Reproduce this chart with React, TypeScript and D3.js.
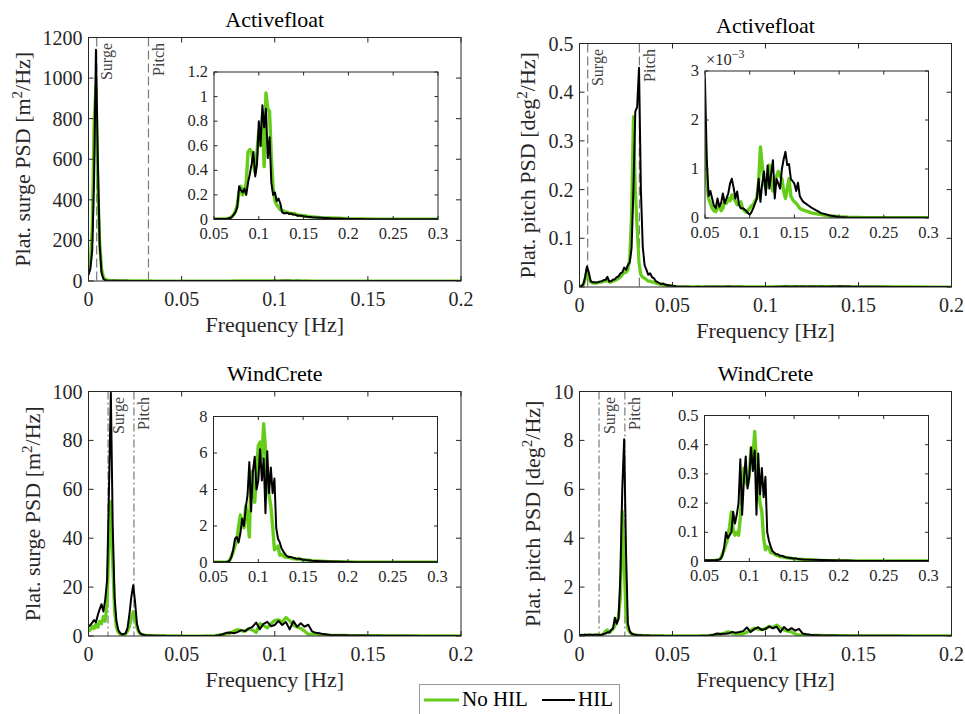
import React from "react";
import * as d3 from "d3";

// ---------- DATA ----------
const FREQ = [
  0, 0.001, 0.002, 0.003, 0.004, 0.005, 0.006, 0.007, 0.008, 0.009,
  0.01, 0.011, 0.012, 0.013, 0.014, 0.015, 0.016, 0.017, 0.018, 0.019,
  0.02, 0.021, 0.022, 0.023, 0.024, 0.025, 0.026, 0.027, 0.028, 0.029,
  0.03, 0.031, 0.032, 0.033, 0.034, 0.035, 0.036, 0.037, 0.038, 0.039,
  0.04, 0.041, 0.042, 0.043, 0.044, 0.045, 0.046, 0.047, 0.048, 0.049,
  0.05,
  0.052, 0.054, 0.056, 0.058, 0.06, 0.062, 0.064, 0.066, 0.068, 0.07,
  0.072, 0.074, 0.076, 0.078, 0.08, 0.082, 0.084, 0.086, 0.088, 0.09,
  0.092, 0.094, 0.096, 0.098, 0.1, 0.102, 0.104, 0.106, 0.108, 0.11,
  0.112, 0.114, 0.116, 0.118, 0.12, 0.122, 0.124, 0.126, 0.128, 0.13,
  0.132, 0.134, 0.136, 0.138, 0.14, 0.142, 0.144, 0.146, 0.148, 0.15,
  0.152, 0.154, 0.156, 0.158, 0.16,
  0.17, 0.18, 0.19, 0.2, 0.21, 0.22, 0.23, 0.24, 0.25, 0.26, 0.27, 0.28, 0.29, 0.3,
];

// Activefloat surge PSD [m^2/Hz]
const AF_SURGE_NOHIL = [
  45, 90, 260, 780, 960, 480, 190, 60, 20, 8,
  4, 3, 2.5, 2, 1.6, 1.4, 1.2, 1.1, 1, 0.9,
  0.8, 0.7, 0.6, 0.55, 0.5, 0.45, 0.4, 0.35, 0.3, 0.3,
  0.25, 0.2, 0.2, 0.15, 0.15, 0.12, 0.1, 0.08, 0.07, 0.06,
  0.05, 0.04, 0.03, 0.025, 0.02, 0.015, 0.012, 0.01, 0.008, 0.006,
  0.005,
  0.004, 0.004, 0.004, 0.004, 0.004, 0.005, 0.006, 0.008, 0.015, 0.025,
  0.04, 0.07, 0.12, 0.22, 0.27, 0.2, 0.24, 0.3, 0.55, 0.57,
  0.55, 0.45, 0.38, 0.55, 0.72, 0.6, 0.85, 0.43, 1.03, 0.9,
  0.88, 0.5, 0.25, 0.15, 0.12, 0.1, 0.08, 0.07, 0.07, 0.06,
  0.06, 0.05, 0.05, 0.045, 0.05, 0.04, 0.035, 0.035, 0.03, 0.03,
  0.03, 0.025, 0.025, 0.02, 0.02,
  0.015, 0.012, 0.01, 0.006, 0.005, 0.004, 0.003, 0.003, 0.003, 0.002, 0.002, 0.002, 0.002, 0.002,
];
const AF_SURGE_HIL = [
  30, 60, 150, 500, 1140, 600, 180, 40, 10, 4,
  2, 1.8, 1.6, 1.5, 1.3, 1.2, 1.1, 1, 0.9, 0.8,
  0.7, 0.65, 0.6, 0.5, 0.45, 0.4, 0.35, 0.3, 0.3, 0.25,
  0.2, 0.2, 0.15, 0.15, 0.12, 0.1, 0.08, 0.07, 0.06, 0.05,
  0.04, 0.035, 0.03, 0.025, 0.02, 0.015, 0.012, 0.01, 0.008, 0.006,
  0.005,
  0.004, 0.004, 0.004, 0.004, 0.004, 0.005, 0.006, 0.008, 0.012, 0.02,
  0.04, 0.06, 0.1, 0.27, 0.24, 0.22, 0.25, 0.2, 0.3, 0.37,
  0.45, 0.55, 0.35, 0.45, 0.8, 0.6, 0.93, 0.75, 0.9, 0.5,
  0.67, 0.3, 0.2, 0.22, 0.15, 0.17, 0.13, 0.06, 0.05, 0.05,
  0.055, 0.045, 0.05, 0.04, 0.04, 0.035, 0.03, 0.03, 0.03, 0.025,
  0.025, 0.022, 0.02, 0.02, 0.018,
  0.015, 0.01, 0.008, 0.005, 0.004, 0.003, 0.003, 0.002, 0.002, 0.002, 0.002, 0.002, 0.002, 0.002,
];

// Activefloat pitch PSD [deg^2/Hz]
const AF_PITCH_NOHIL = [
  0.001, 0.002, 0.004, 0.015, 0.035, 0.02, 0.01, 0.008, 0.008, 0.008,
  0.009, 0.01, 0.01, 0.012, 0.012, 0.015, 0.01, 0.01, 0.012, 0.014,
  0.015, 0.018, 0.02, 0.025, 0.03, 0.03, 0.035, 0.06, 0.15, 0.35,
  0.2, 0.12, 0.05, 0.025, 0.02, 0.018, 0.015, 0.012, 0.012, 0.01,
  0.01, 0.008, 0.007, 0.006, 0.005, 0.004, 0.004, 0.003, 0.003, 0.002,
  1.6e-3,
  0.74e-3, 0.4e-3, 0.3e-3, 0.2e-3, 0.15e-3, 0.13e-3, 0.2e-3, 0.27e-3, 0.15e-3, 0.2e-3,
  0.33e-3, 0.3e-3, 0.4e-3, 0.35e-3, 0.47e-3, 0.4e-3, 0.35e-3, 0.27e-3, 0.3e-3, 0.33e-3,
  0.2e-3, 0.15e-3, 0.12e-3, 0.15e-3, 0.2e-3, 0.25e-3, 0.27e-3, 0.35e-3, 0.4e-3, 0.74e-3,
  1.45e-3, 1.08e-3, 0.75e-3, 0.6e-3, 0.8e-3, 1.08e-3, 0.7e-3, 0.55e-3, 0.8e-3, 0.85e-3,
  0.95e-3, 0.85e-3, 0.8e-3, 0.55e-3, 0.4e-3, 0.6e-3, 0.8e-3, 0.45e-3, 0.38e-3, 0.33e-3,
  0.3e-3, 0.25e-3, 0.2e-3, 0.18e-3, 0.16e-3,
  0.1e-3, 0.07e-3, 0.04e-3, 0.025e-3, 0.015e-3, 0.01e-3, 0.008e-3, 0.006e-3, 0.005e-3, 0.005e-3, 0.004e-3, 0.004e-3, 0.004e-3, 0.004e-3,
];
const AF_PITCH_HIL = [
  0.001, 0.002, 0.005, 0.02, 0.042, 0.03, 0.012, 0.01, 0.01, 0.009,
  0.01, 0.011, 0.012, 0.014, 0.015, 0.021, 0.011, 0.012, 0.015, 0.016,
  0.02, 0.022, 0.028, 0.03, 0.04, 0.035, 0.045, 0.05, 0.08, 0.2,
  0.36, 0.37, 0.45, 0.2, 0.083, 0.045, 0.035, 0.025, 0.028, 0.02,
  0.018, 0.012, 0.01, 0.008, 0.006, 0.007, 0.005, 0.004, 0.003, 0.003,
  2.8e-3,
  1.2e-3, 0.45e-3, 0.55e-3, 0.4e-3, 0.25e-3, 0.2e-3, 0.4e-3, 0.23e-3, 0.3e-3, 0.5e-3,
  0.3e-3, 0.4e-3, 0.5e-3, 0.7e-3, 0.8e-3, 0.62e-3, 0.4e-3, 0.54e-3, 0.27e-3, 0.2e-3,
  0.2e-3, 0.18e-3, 0.15e-3, 0.1e-3, 0.07e-3, 0.12e-3, 0.2e-3, 0.3e-3, 0.4e-3, 0.8e-3,
  0.33e-3, 0.7e-3, 0.95e-3, 0.47e-3, 1.07e-3, 0.6e-3, 0.9e-3, 1.18e-3, 0.4e-3, 0.8e-3,
  0.7e-3, 0.6e-3, 1.0e-3, 1.2e-3, 1.35e-3, 1.08e-3, 1.1e-3, 0.8e-3, 0.75e-3, 0.7e-3,
  0.55e-3, 0.72e-3, 0.45e-3, 0.38e-3, 0.33e-3,
  0.2e-3, 0.1e-3, 0.05e-3, 0.02e-3, 0.01e-3, 0.006e-3, 0.005e-3, 0.004e-3, 0.004e-3, 0.004e-3, 0.004e-3, 0.004e-3, 0.004e-3, 0.004e-3,
];

// WindCrete surge PSD [m^2/Hz]
const WC_SURGE_NOHIL = [
  2, 2.5, 4, 3, 5, 3.5, 6, 5, 8, 6,
  14, 38, 55, 30, 10, 3.5, 1.5, 0.8, 0.5, 0.6,
  0.9, 2, 4, 7, 10, 7.5, 3.5, 1.5, 0.8, 0.5,
  0.35, 0.3, 0.25, 0.2, 0.18, 0.15, 0.12, 0.1, 0.09, 0.08,
  0.07, 0.06, 0.05, 0.045, 0.04, 0.035, 0.03, 0.025, 0.02, 0.015,
  0.01,
  0.01, 0.01, 0.01, 0.01, 0.01, 0.015, 0.02, 0.04, 0.12, 0.35,
  0.6, 0.9, 1.2, 2.0, 2.6, 2.2, 1.9, 3.1, 2.5, 1.4,
  5.0, 4.2, 3.3, 5.0, 6.4, 6.6, 5.7, 7.6, 6.2, 4.4,
  3.7, 3.1, 2.0, 0.7, 0.8, 0.9, 0.4, 0.45, 0.35, 0.3,
  0.28, 0.3, 0.25, 0.22, 0.2, 0.2, 0.18, 0.2, 0.16, 0.15,
  0.14, 0.13, 0.12, 0.11, 0.1,
  0.07, 0.05, 0.04, 0.03, 0.02, 0.02, 0.015, 0.01, 0.01, 0.01, 0.01, 0.01, 0.01, 0.01,
];
const WC_SURGE_HIL = [
  3.8, 4.5, 5.5, 6.5, 5.6, 8.6, 11, 13, 10, 15,
  23, 60, 99.5, 45, 16, 6, 2.5, 1.2, 0.7, 0.8,
  1.2, 3.5, 9, 16, 20.8, 14, 5, 2, 1, 0.6,
  0.4, 0.3, 0.25, 0.2, 0.18, 0.15, 0.12, 0.1, 0.09, 0.08,
  0.07, 0.06, 0.05, 0.045, 0.04, 0.035, 0.03, 0.025, 0.02, 0.015,
  0.01,
  0.01, 0.01, 0.01, 0.01, 0.01, 0.015, 0.02, 0.04, 0.1, 0.3,
  0.7, 1.3, 1.4, 1.1, 1.6, 2.4, 2.0, 3.0, 3.7, 5.5,
  2.8, 5.0, 5.8, 4.0, 4.5, 6.2, 4.5, 5.7, 2.7, 6.1,
  3.8, 5.2, 3.8, 4.6, 1.9, 1.3, 1.1, 0.77, 0.6, 0.45,
  0.35, 0.3, 0.3, 0.28, 0.25, 0.22, 0.2, 0.2, 0.18, 0.15,
  0.15, 0.13, 0.12, 0.11, 0.1,
  0.07, 0.05, 0.04, 0.03, 0.02, 0.02, 0.015, 0.01, 0.01, 0.01, 0.01, 0.01, 0.01, 0.01,
];

// WindCrete pitch PSD [deg^2/Hz]
const WC_PITCH_NOHIL = [
  0.02, 0.03, 0.03, 0.04, 0.03, 0.04, 0.04, 0.03, 0.04, 0.04,
  0.04, 0.04, 0.05, 0.1, 0.2, 0.25, 0.15, 0.2, 0.3, 0.4,
  0.6, 0.8, 1.6, 5.1, 3.0, 0.8, 0.3, 0.15, 0.08, 0.05,
  0.04, 0.035, 0.03, 0.025, 0.02, 0.018, 0.015, 0.013, 0.012, 0.01,
  0.009, 0.008, 0.007, 0.006, 0.005, 0.005, 0.004, 0.004, 0.004, 0.003,
  0.003,
  0.003, 0.003, 0.003, 0.003, 0.003, 0.004, 0.005, 0.006, 0.01, 0.025,
  0.04, 0.06, 0.08, 0.12, 0.17, 0.11, 0.09, 0.1, 0.09, 0.15,
  0.24, 0.32, 0.28, 0.26, 0.3, 0.39, 0.35, 0.445, 0.33, 0.25,
  0.2, 0.17, 0.08, 0.04, 0.05, 0.045, 0.03, 0.03, 0.025, 0.022,
  0.02, 0.017, 0.016, 0.015, 0.014, 0.013, 0.012, 0.011, 0.01, 0.01,
  0.009, 0.008, 0.008, 0.007, 0.007,
  0.005, 0.004, 0.003, 0.003, 0.002, 0.002, 0.002, 0.002, 0.002, 0.002, 0.002, 0.002, 0.002, 0.002,
];
const WC_PITCH_HIL = [
  0.03, 0.04, 0.04, 0.05, 0.04, 0.05, 0.05, 0.04, 0.05, 0.05,
  0.05, 0.04, 0.05, 0.08, 0.1, 0.15, 0.14, 0.25, 0.3, 0.75,
  0.5, 0.7, 2.5, 6.0, 8.05, 3.5, 0.5, 0.2, 0.1, 0.07,
  0.05, 0.04, 0.035, 0.03, 0.025, 0.02, 0.02, 0.018, 0.015, 0.013,
  0.012, 0.01, 0.01, 0.008, 0.007, 0.006, 0.005, 0.005, 0.004, 0.004,
  0.004,
  0.004, 0.004, 0.004, 0.004, 0.004, 0.004, 0.005, 0.006, 0.01, 0.02,
  0.05, 0.1, 0.08, 0.09, 0.1, 0.17, 0.13, 0.16, 0.2, 0.35,
  0.16, 0.28, 0.36, 0.25, 0.29, 0.39, 0.31, 0.38, 0.16, 0.37,
  0.23, 0.32, 0.22, 0.29, 0.1, 0.07, 0.05, 0.035, 0.03, 0.025,
  0.025, 0.02, 0.02, 0.018, 0.015, 0.014, 0.013, 0.012, 0.011, 0.01,
  0.01, 0.009, 0.008, 0.008, 0.007,
  0.006, 0.005, 0.004, 0.003, 0.003, 0.002, 0.002, 0.002, 0.002, 0.002, 0.002, 0.002, 0.002, 0.002,
];

const MAIN_X_TICKS = [0, 0.05, 0.1, 0.15, 0.2];
const INSET_X_TICKS = [0.05, 0.1, 0.15, 0.2, 0.25, 0.3];
const SERIES_NAMES = ["No HIL", "HIL"];
const TITLES = ["Activefloat", "Activefloat", "WindCrete", "WindCrete"];
const Y_LABEL_PREFIX = ["Plat. surge PSD [m", "Plat. pitch PSD [deg", "Plat. surge PSD [m", "Plat. pitch PSD [deg"];
const MAIN_Y_TICKS = [
  [0, 200, 400, 600, 800, 1000, 1200],
  [0, 0.1, 0.2, 0.3, 0.4, 0.5],
  [0, 20, 40, 60, 80, 100],
  [0, 2, 4, 6, 8, 10],
];
const INSET_Y_TICKS = [
  [0, 0.2, 0.4, 0.6, 0.8, 1, 1.2],
  [0, 0.001, 0.002, 0.003],
  [0, 2, 4, 6, 8],
  [0, 0.1, 0.2, 0.3, 0.4, 0.5],
];
const INSET_Y_FACTOR = [1, 1e-3, 1, 1];
const NATURAL_FREQ = [
  [0.0044, 0.0322],
  [0.0044, 0.0322],
  [0.0105, 0.0244],
  [0.0105, 0.0244],
];
const NATURAL_LABELS = ["Surge", "Pitch"];

// ---------- LAYOUT ----------
const FONT = '"Liberation Serif", "DejaVu Serif", serif';
const GREEN = "#66cc1a";
const INK = "#262626";
const GRAY = "#7a7a7a";

const LAYOUT = [
  { main: { x0: 88.5, x1: 461, y0: 37.5, y1: 281 }, inset: { x0: 214, x1: 438, y0: 72, y1: 219.5 }, ylabX: 29.5, dash: "9,4" },
  { main: { x0: 579.5, x1: 951.5, y0: 43.5, y1: 287 }, inset: { x0: 705, x1: 928.5, y0: 71, y1: 218 }, ylabX: 535, dash: "9,4" },
  { main: { x0: 88.5, x1: 461, y0: 391.5, y1: 636 }, inset: { x0: 213.5, x1: 437.5, y0: 416.5, y1: 562.5 }, ylabX: 40, dash: "8,3,2,3" },
  { main: { x0: 579.5, x1: 951.5, y0: 391.5, y1: 636 }, inset: { x0: 704.5, x1: 928.5, y0: 415.5, y1: 561.5 }, ylabX: 540, dash: "8,3,2,3" },
];

const SERIES = [
  [AF_SURGE_NOHIL, AF_SURGE_HIL],
  [AF_PITCH_NOHIL, AF_PITCH_HIL],
  [WC_SURGE_NOHIL, WC_SURGE_HIL],
  [WC_PITCH_NOHIL, WC_PITCH_HIL],
];

const fmt = (v: number) => String(+v.toFixed(6));

function toPoints(vals: number[]): [number, number][] {
  const n = Math.min(FREQ.length, vals.length);
  const out: [number, number][] = [];
  for (let i = 0; i < n; i++) out.push([FREQ[i], vals[i]]);
  return out;
}

const T = (size: number, extra: React.CSSProperties = {}): React.CSSProperties => ({
  fontFamily: FONT,
  fontSize: size,
  ...extra,
});

function Panel({ idx }: { idx: number }) {
  const L = LAYOUT[idx];
  const m = L.main;
  const ins = L.inset;
  const yTicks = MAIN_Y_TICKS[idx];
  const iyTicks = INSET_Y_TICKS[idx];
  const x = d3.scaleLinear().domain([MAIN_X_TICKS[0], MAIN_X_TICKS[MAIN_X_TICKS.length - 1]]).range([m.x0, m.x1]);
  const y = d3.scaleLinear().domain([yTicks[0], yTicks[yTicks.length - 1]]).range([m.y1, m.y0]);
  const xi = d3.scaleLinear().domain([INSET_X_TICKS[0], INSET_X_TICKS[INSET_X_TICKS.length - 1]]).range([ins.x0, ins.x1]);
  const yi = d3.scaleLinear().domain([iyTicks[0], iyTicks[iyTicks.length - 1]]).range([ins.y1, ins.y0]);
  const lineMain = d3.line<[number, number]>().x((d) => x(d[0])).y((d) => y(d[1]));
  const lineInset = d3.line<[number, number]>().x((d) => xi(d[0])).y((d) => yi(d[1]));
  const [noHil, hil] = SERIES[idx];
  const pNo = toPoints(noHil);
  const pHil = toPoints(hil);
  const clipM = `clipM${idx}`;
  const clipI = `clipI${idx}`;
  const tk = 5;
  const tki = 3.5;
  const midX = (m.x0 + m.x1) / 2;
  const midY = (m.y0 + m.y1) / 2;
  const factor = INSET_Y_FACTOR[idx];

  return (
    <g>
      <defs>
        <clipPath id={clipM}>
          <rect x={m.x0} y={m.y0} width={m.x1 - m.x0} height={m.y1 - m.y0} />
        </clipPath>
        <clipPath id={clipI}>
          <rect x={ins.x0} y={ins.y0} width={ins.x1 - ins.x0} height={ins.y1 - ins.y0} />
        </clipPath>
      </defs>
      <rect x={m.x0} y={m.y0} width={m.x1 - m.x0} height={m.y1 - m.y0} fill="#fff" />
      {NATURAL_FREQ[idx].map((f, k) => (
        <g key={k}>
          <line x1={x(f)} x2={x(f)} y1={m.y0} y2={m.y1} stroke={GRAY} strokeWidth={1.2} strokeDasharray={L.dash} />
          <text
            transform={`translate(${x(f) + 15.5},${m.y0 + 5.5}) rotate(-90)`}
            textAnchor="end"
            style={T(16)}
            fill="#444"
          >
            {NATURAL_LABELS[k]}
          </text>
        </g>
      ))}
      <g clipPath={`url(#${clipM})`}>
        <path d={lineMain(pNo) || ""} fill="none" stroke={GREEN} strokeWidth={3.2} strokeLinejoin="round" />
        <path d={lineMain(pHil) || ""} fill="none" stroke="#000" strokeWidth={2} strokeLinejoin="round" />
      </g>
      <rect x={m.x0} y={m.y0} width={m.x1 - m.x0} height={m.y1 - m.y0} fill="none" stroke={INK} strokeWidth={1} />
      {MAIN_X_TICKS.map((t) => (
        <g key={"mx" + t}>
          <line x1={x(t)} x2={x(t)} y1={m.y1} y2={m.y1 - tk} stroke={INK} />
          <line x1={x(t)} x2={x(t)} y1={m.y0} y2={m.y0 + tk} stroke={INK} />
          <text x={x(t)} y={m.y1 + 25} textAnchor="middle" style={T(20)} fill={INK}>
            {fmt(t)}
          </text>
        </g>
      ))}
      {yTicks.map((t) => (
        <g key={"my" + t}>
          <line x1={m.x0} x2={m.x0 + tk} y1={y(t)} y2={y(t)} stroke={INK} />
          <line x1={m.x1} x2={m.x1 - tk} y1={y(t)} y2={y(t)} stroke={INK} />
          <text x={m.x0 - 6} y={y(t) + 7} textAnchor="end" style={T(20)} fill={INK}>
            {fmt(t)}
          </text>
        </g>
      ))}
      <text x={midX} y={m.y0 - 10.5} textAnchor="middle" style={T(22)} fill="#000">
        {TITLES[idx]}
      </text>
      <text x={midX} y={m.y1 + 51} textAnchor="middle" style={T(22)} fill={INK}>
        Frequency [Hz]
      </text>
      <text transform={`translate(${L.ylabX},${midY}) rotate(-90)`} textAnchor="middle" style={T(22)} fill={INK}>
        {Y_LABEL_PREFIX[idx]}
        <tspan dy={-8} style={T(15)}>2</tspan>
        <tspan dy={8}>/Hz]</tspan>
      </text>
      {/* inset */}
      <rect x={ins.x0} y={ins.y0} width={ins.x1 - ins.x0} height={ins.y1 - ins.y0} fill="#fff" />
      <g clipPath={`url(#${clipI})`}>
        <path d={lineInset(pNo) || ""} fill="none" stroke={GREEN} strokeWidth={3.4} strokeLinejoin="round" />
        <path d={lineInset(pHil) || ""} fill="none" stroke="#000" strokeWidth={2} strokeLinejoin="round" />
      </g>
      <rect x={ins.x0} y={ins.y0} width={ins.x1 - ins.x0} height={ins.y1 - ins.y0} fill="none" stroke={INK} strokeWidth={1} />
      {INSET_X_TICKS.map((t) => (
        <g key={"ix" + t}>
          <line x1={xi(t)} x2={xi(t)} y1={ins.y1} y2={ins.y1 - tki} stroke={INK} />
          <line x1={xi(t)} x2={xi(t)} y1={ins.y0} y2={ins.y0 + tki} stroke={INK} />
          <text x={xi(t)} y={ins.y1 + 19.5} textAnchor="middle" style={T(16.5)} fill={INK}>
            {fmt(t)}
          </text>
        </g>
      ))}
      {iyTicks.map((t) => (
        <g key={"iy" + t}>
          <line x1={ins.x0} x2={ins.x0 + tki} y1={yi(t)} y2={yi(t)} stroke={INK} />
          <line x1={ins.x1} x2={ins.x1 - tki} y1={yi(t)} y2={yi(t)} stroke={INK} />
          <text x={ins.x0 - 6} y={yi(t) + 5} textAnchor="end" style={T(16.5)} fill={INK}>
            {fmt(t / factor)}
          </text>
        </g>
      ))}
      {factor !== 1 && (
        <text x={ins.x0 + 1} y={ins.y0 - 6} style={T(16.5)} fill={INK}>
          ×10
          <tspan dy={-7} style={T(12)}>−3</tspan>
        </text>
      )}
    </g>
  );
}

function Legend() {
  return (
    <g>
      <rect x={419.5} y={684.5} width={200} height={40} fill="#fff" stroke="#9a9a9a" strokeWidth={1} />
      <line x1={424} x2={459} y1={700} y2={700} stroke={GREEN} strokeWidth={3.2} />
      <text x={462} y={706} style={T(21)} fill="#000">{SERIES_NAMES[0]}</text>
      <line x1={542} x2={575} y1={700} y2={700} stroke="#000" strokeWidth={2.2} />
      <text x={578} y={706} style={T(21)} fill="#000">{SERIES_NAMES[1]}</text>
    </g>
  );
}

export default function App() {
  return (
    <svg
      width={965}
      height={714}
      viewBox="0 0 965 714"
      style={{ position: "absolute", left: 0, top: 0, background: "#fff", fontFamily: FONT }}
    >
      <rect x={0} y={0} width={965} height={714} fill="#fff" />
      {[0, 1, 2, 3].map((i) => (
        <Panel key={i} idx={i} />
      ))}
      <Legend />
    </svg>
  );
}
